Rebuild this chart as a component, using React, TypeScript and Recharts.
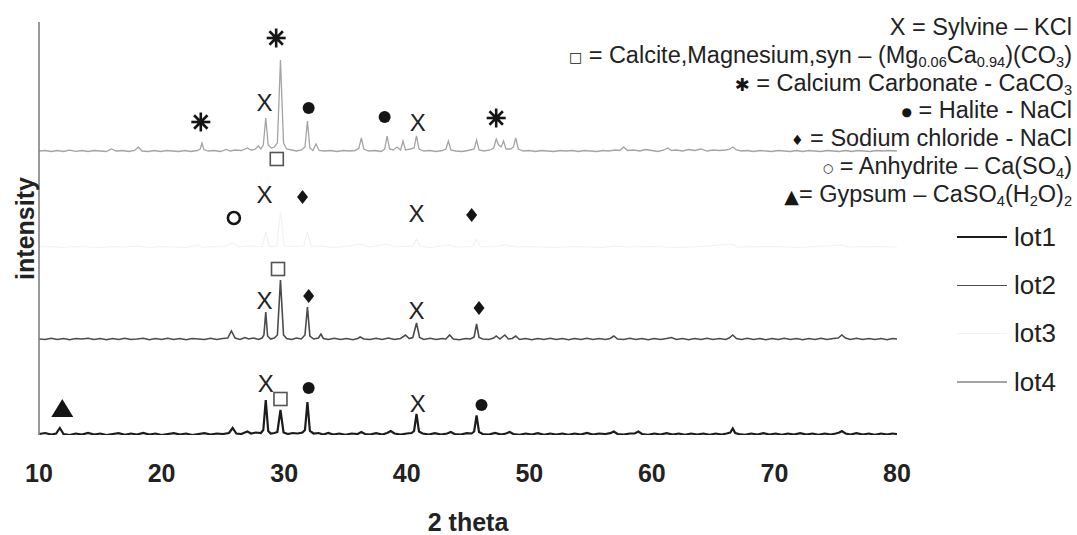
import { ComposedChart, Line, Scatter, XAxis, YAxis } from 'recharts'

// 2θ tick labels
const thetaTicks = [10, 20, 30, 40, 50, 60, 70, 80]

const lotNames = ['lot1', 'lot2', 'lot3', 'lot4']
const lotColors = ['#1c1c1c', '#4b4b4b', '#f2f2f2', '#a4a4a4']
// vertical stacking offset of each pattern (counts)
const lotOffsets = [10, 960, 1880, 2840]

// [2θ, counts above own baseline]
const lot1Raw: [number, number][] = [
  [10, 0], [10.5, 10], [11, -5], [11.4, 5], [11.7, 60], [12, 0], [12.5, -10], [13, 5], [13.5, -5], [14, 10],
  [14.5, -5], [15, 5], [15.5, -10], [16, 0], [16.5, 8], [17, -8], [17.5, 5], [18, -5], [18.5, 10], [19, -5],
  [19.5, 5], [20, -10], [20.5, 0], [21, 8], [21.5, -5], [22, 5], [22.5, -10], [23, 0], [23.5, 8], [24, -5],
  [24.5, 5], [25, 0], [25.5, 10], [25.8, 60], [26.1, 5], [26.5, 0], [27, 25], [27.3, 5], [27.7, 15], [28.1, 10],
  [28.3, 40], [28.5, 340], [28.7, 30], [28.9, 5], [29.2, 10], [29.45, 20], [29.7, 240], [29.95, 15], [30.3, 0],
  [30.7, 10], [31.1, 5], [31.5, 15], [31.7, 40], [31.9, 320], [32.1, 30], [32.4, 5], [32.8, 10], [33.2, -5],
  [33.6, 10], [34, -5], [34.5, 5], [35, -8], [35.5, 5], [36, 0], [36.3, 20], [36.6, 0], [37, -5], [37.5, 8],
  [38, -5], [38.4, 10], [38.7, 30], [39, 5], [39.5, -5], [40, 5], [40.4, 10], [40.6, 30], [40.8, 200], [41, 25],
  [41.3, 5], [41.8, -5], [42.3, 8], [42.8, -5], [43.3, 5], [43.6, 20], [43.9, 0], [44.4, -5], [44.9, 8], [45.3, 5],
  [45.5, 25], [45.7, 185], [45.9, 20], [46.2, 0], [46.7, -5], [47.2, 10], [47.7, -5], [48.1, 5], [48.4, 20],
  [48.7, 0], [49.2, -8], [49.7, 5], [50.2, -5], [50.7, 8], [51.2, -8], [51.7, 5], [52.2, -5], [52.7, 5], [53.2, -8],
  [53.7, 5], [54.2, -5], [54.7, 10], [55.2, -5], [55.7, 5], [56.2, 0], [56.6, 8], [56.9, 25], [57.2, 0], [57.7, -5],
  [58.2, 5], [58.6, 5], [58.9, 25], [59.2, 0], [59.7, -8], [60.2, 5], [60.7, -5], [61.2, 8], [61.7, -5], [62.2, 5],
  [62.7, -8], [63.2, 5], [63.7, -5], [64.2, 5], [64.7, -8], [65.2, 5], [65.7, -5], [66.1, 5], [66.4, 15], [66.6, 55],
  [66.8, 10], [67.1, 0], [67.6, -8], [68.1, 5], [68.6, -5], [69.1, 8], [69.6, -5], [70.1, 5], [70.6, -8], [71.1, 5],
  [71.6, -5], [72.1, 8], [72.6, -5], [73.1, 5], [73.6, -8], [74.1, 5], [74.6, -5], [75, 5], [75.3, 15], [75.5, 30],
  [75.8, 5], [76.2, -5], [76.7, 8], [77.2, -5], [77.7, 5], [78.2, -8], [78.7, 5], [79.2, -5], [79.6, 5], [80, 0],
]

const lot2Raw: [number, number][] = [
  [10, 0], [10.5, -5], [11, 8], [11.5, -5], [12, 5], [12.5, -8], [13, 5], [13.5, 0], [14, 8], [14.5, -5], [15, 5],
  [15.5, -8], [16, 5], [16.5, -5], [17, 8], [17.5, -5], [18, 0], [18.5, 8], [19, -8], [19.5, 5], [20, -5], [20.5, 8],
  [21, -5], [21.5, 5], [22, -8], [22.5, 5], [23, 0], [23.5, -5], [24, 8], [24.5, -5], [25, 5], [25.4, 10], [25.7, 80],
  [26, 10], [26.4, -5], [26.8, 15], [27.1, 0], [27.5, 10], [27.9, -5], [28.2, 10], [28.35, 40], [28.5, 270],
  [28.65, 30], [28.9, 0], [29.2, 10], [29.45, 40], [29.7, 590], [29.95, 40], [30.2, 5], [30.6, -5], [31, 10],
  [31.4, 0], [31.7, 40], [31.9, 320], [32.1, 30], [32.4, 0], [32.8, 10], [33, 50], [33.2, 5], [33.6, -5], [34.1, 8],
  [34.6, -5], [35.1, 5], [35.6, -8], [36, 5], [36.2, 20], [36.5, 0], [37, -5], [37.5, 8], [38, -5], [38.5, 10],
  [39, -5], [39.5, 5], [39.9, 40], [40.2, 5], [40.5, 15], [40.8, 160], [41.05, 15], [41.4, -5], [41.9, 8], [42.4, -5],
  [42.9, 5], [43.2, 0], [43.5, 40], [43.8, 0], [44.3, -8], [44.8, 5], [45.2, 0], [45.5, 20], [45.7, 150], [45.9, 15],
  [46.2, 0], [46.7, -5], [47.1, 10], [47.3, 30], [47.6, 0], [48, 40], [48.3, 0], [48.6, 5], [48.9, 30], [49.2, -5],
  [49.7, 5], [50.2, -8], [50.7, 5], [51.2, -5], [51.7, 8], [52.2, -5], [52.7, 5], [53.2, -8], [53.7, 5], [54.2, -5],
  [54.7, 8], [55.2, -5], [55.7, 5], [56.2, -5], [56.6, 5], [56.9, 30], [57.2, 0], [57.7, -5], [58.2, 8], [58.7, -5],
  [59.2, 5], [59.7, -8], [60.2, 5], [60.7, -5], [61.2, 5], [61.6, 15], [62, -5], [62.5, 5], [63, -8], [63.5, 5],
  [64, -5], [64.5, 8], [65, -5], [65.5, 5], [66, -5], [66.3, 10], [66.6, 40], [66.9, 5], [67.3, -5], [67.8, 8],
  [68.3, -5], [68.8, 5], [69.3, -8], [69.8, 5], [70.3, -5], [70.8, 8], [71.3, -5], [71.8, 5], [72.3, -8], [72.8, 5],
  [73.3, -5], [73.8, 8], [74.3, -5], [74.8, 5], [75.2, 10], [75.5, 40], [75.8, 10], [76.2, -5], [76.7, 8], [77.2, -5],
  [77.7, 5], [78.2, -5], [78.7, 5], [79.2, -8], [79.6, 5], [80, 0],
]

const lot3Raw: [number, number][] = [
  [10, 0], [11, 5], [12, -5], [13, 5], [14, 0], [15, -5], [16, 5], [17, 0], [18, 10], [19, -5], [20, 5], [21, 0],
  [22, -5], [23, 20], [23.3, -5], [24, 5], [25, 0], [25.8, 40], [26.3, 0], [27, 10], [28.2, 5], [28.5, 150], [28.8, 5],
  [29.4, 10], [29.7, 350], [30, 10], [31, 5], [31.6, 10], [31.9, 150], [32.2, 5], [33, 10], [34, -5], [35, 5],
  [36.2, 30], [37, 0], [38.4, 30], [39, 0], [40.5, 10], [40.8, 80], [41.1, 5], [42, -5], [43.4, 20], [44, 0],
  [45.4, 5], [45.7, 80], [46, 5], [47, 0], [48, 20], [49, 0], [50, 5], [52, -5], [54, 5], [56, -5], [57, 10], [58, 0],
  [60, 5], [62, -5], [64, 5], [66.6, 30], [67, 0], [70, 5], [72, -5], [75.5, 20], [76, 0], [78, 5], [80, 0],
]

const lot4Raw: [number, number][] = [
  [10, 0], [10.5, 5], [11, -5], [11.5, 5], [12, -5], [12.5, 8], [13, -3], [13.5, 5], [14, -5], [14.5, 5], [15, 0],
  [15.5, -5], [15.9, 20], [16.3, 0], [16.8, 5], [17.3, -5], [17.8, 5], [18.1, 40], [18.4, 0], [18.9, -5], [19.4, 5],
  [19.9, -5], [20.4, 5], [20.9, 0], [21.4, -5], [21.9, 5], [22.4, -5], [22.9, 5], [23.15, 20], [23.3, 80],
  [23.45, 15], [23.8, 0], [24.3, 5], [24.8, -5], [25.3, 15], [25.6, 0], [26, 10], [26.5, 5], [27, 30], [27.3, 10],
  [27.6, 15], [27.9, 50], [28.1, 20], [28.3, 60], [28.5, 330], [28.7, 60], [28.95, 30], [29.2, 40], [29.45, 80],
  [29.7, 910], [29.95, 80], [30.2, 20], [30.6, 10], [31, 0], [31.4, 10], [31.7, 40], [31.9, 300], [32.1, 30],
  [32.35, 5], [32.6, 70], [32.85, 5], [33.3, 0], [33.8, 5], [34.3, -5], [34.8, 5], [35.3, 0], [35.8, 5], [36.1, 30],
  [36.3, 130], [36.5, 20], [36.9, 0], [37.4, 5], [37.9, -5], [38.2, 20], [38.4, 150], [38.6, 20], [38.9, 10],
  [39.2, 40], [39.5, 10], [39.7, 100], [39.9, 10], [40.3, 20], [40.6, 30], [40.8, 150], [41, 20], [41.4, 0], [41.9, 5],
  [42.4, -5], [42.9, 5], [43.2, 20], [43.4, 100], [43.6, 10], [44, 0], [44.5, -5], [45, 5], [45.5, 20], [45.7, 110],
  [45.9, 10], [46.3, 0], [46.8, 10], [47.1, 30], [47.3, 120], [47.5, 60], [47.7, 40], [47.9, 100], [48.1, 20],
  [48.5, 20], [48.7, 40], [48.9, 130], [49.1, 20], [49.5, 0], [50, 5], [50.5, -5], [51, 5], [51.5, 0], [52, -5],
  [52.5, 5], [53, 0], [53.5, 5], [54, -5], [54.5, 5], [55, 0], [55.5, -5], [56, 5], [56.5, 0], [57, 10], [57.4, 5],
  [57.7, 40], [58, 5], [58.5, 10], [59, 0], [59.5, 15], [60, 5], [60.5, -5], [61, 10], [61.3, 30], [61.6, 5], [62, 10],
  [62.5, 0], [63, 15], [63.5, 5], [64, 20], [64.5, 0], [65, 10], [65.5, 5], [66, 10], [66.3, 15], [66.6, 40],
  [66.9, 10], [67.3, 0], [67.8, 5], [68.3, -5], [68.8, 5], [69.3, 0], [69.8, -5], [70.3, 5], [70.8, 0], [71.3, -5],
  [71.8, 5], [72.3, -5], [72.8, 5], [73.3, 0], [73.8, -5], [74.3, 5], [74.8, 0], [75.3, -5], [75.8, 5], [76.3, -5],
  [76.8, 5], [77.3, 0], [77.8, -5], [78.3, 5], [78.8, 0], [79.3, 5], [80, 0],
]

// phase markers: 2θ, counts (chart scale), symbol
type Mark = { x: number; y: number; sym: string }
const lot4Marks: Mark[] = [
  { x: 29.35, y: 3970, sym: 'star' },
  { x: 23.2, y: 3130, sym: 'star' },
  { x: 28.4, y: 3330, sym: 'X' },
  { x: 32.0, y: 3270, sym: 'dot' },
  { x: 38.2, y: 3180, sym: 'dot' },
  { x: 40.9, y: 3130, sym: 'X' },
  { x: 47.3, y: 3170, sym: 'star' },
]
const lot3Marks: Mark[] = [
  { x: 29.4, y: 2760, sym: 'square' },
  { x: 25.9, y: 2170, sym: 'ring' },
  { x: 28.4, y: 2410, sym: 'X' },
  { x: 31.5, y: 2380, sym: 'diamond' },
  { x: 40.8, y: 2220, sym: 'X' },
  { x: 45.3, y: 2200, sym: 'diamond' },
]
const lot2Marks: Mark[] = [
  { x: 29.5, y: 1660, sym: 'square' },
  { x: 28.4, y: 1350, sym: 'X' },
  { x: 32.0, y: 1390, sym: 'diamond' },
  { x: 40.8, y: 1250, sym: 'X' },
  { x: 45.9, y: 1270, sym: 'diamond' },
]
const lot1Marks: Mark[] = [
  { x: 11.9, y: 270, sym: 'triangle' },
  { x: 28.5, y: 520, sym: 'X' },
  { x: 29.7, y: 360, sym: 'square' },
  { x: 32.0, y: 470, sym: 'dot' },
  { x: 40.9, y: 320, sym: 'X' },
  { x: 46.1, y: 300, sym: 'dot' },
]

const lotRaw = [lot1Raw, lot2Raw, lot3Raw, lot4Raw]
const lotWidths = [2.2, 1.6, 1.2, 1.3]
const series = lotRaw.map((pts, i) => pts.map(([t, c]) => ({ x: t, y: c + lotOffsets[i] })))
const allMarks = [...lot1Marks, ...lot2Marks, ...lot3Marks, ...lot4Marks]

const sans = '"Liberation Sans", Arial, "DejaVu Sans", sans-serif'
const ink = '#222'

function PhaseMark(props: any) {
  const { cx, cy, payload } = props
  if (cx == null || cy == null) return null
  switch (payload.sym) {
    case 'X':
      return (
        <text x={cx} y={cy} textAnchor="middle" dominantBaseline="central" fontSize={24} fontFamily={sans} fill={ink}>
          X
        </text>
      )
    case 'square':
      return <rect x={cx - 6.5} y={cy - 6.5} width={13} height={13} fill="#fff" stroke="#555" strokeWidth={1.6} />
    case 'dot':
      return <circle cx={cx} cy={cy} r={6} fill="#151515" />
    case 'ring':
      return <circle cx={cx} cy={cy} r={6} fill="none" stroke="#151515" strokeWidth={2.6} />
    case 'diamond':
      return <path d={`M${cx},${cy - 7}L${cx + 5.5},${cy}L${cx},${cy + 7}L${cx - 5.5},${cy}Z`} fill="#151515" />
    case 'triangle':
      return <path d={`M${cx},${cy - 9}L${cx + 11},${cy + 9}L${cx - 11},${cy + 9}Z`} fill="#151515" />
    case 'star': {
      const r = 9.5
      const d = r * Math.SQRT1_2
      return (
        <g stroke="#151515" strokeWidth={2.6}>
          <line x1={cx - r} y1={cy} x2={cx + r} y2={cy} />
          <line x1={cx} y1={cy - r} x2={cx} y2={cy + r} />
          <line x1={cx - d} y1={cy - d} x2={cx + d} y2={cy + d} />
          <line x1={cx - d} y1={cy + d} x2={cx + d} y2={cy - d} />
          <circle cx={cx} cy={cy} r={3.5} fill="#151515" stroke="none" />
        </g>
      )
    }
    default:
      return null
  }
}

const subStyle = { fontSize: '0.62em', verticalAlign: '-0.3em', lineHeight: 0 }
const sym = (s: string, size: number) => (
  <span
    style={{ fontSize: size, lineHeight: 0, verticalAlign: 'middle', color: '#151515', fontFamily: '"DejaVu Sans", sans-serif' }}
  >
    {s}
  </span>
)

const phaseKey = [
  <>X = Sylvine – KCl</>,
  <>
    {sym('□', 14)} = Calcite,Magnesium,syn – (Mg<sub style={subStyle}>0.06</sub>Ca<sub style={subStyle}>0.94</sub>)(CO
    <sub style={subStyle}>3</sub>)
  </>,
  <>
    {sym('✱', 18)} = Calcium Carbonate - CaCO<sub style={subStyle}>3</sub>
  </>,
  <>{sym('●', 12)} = Halite - NaCl</>,
  <>{sym('♦', 14)} = Sodium chloride - NaCl</>,
  <>
    {sym('○', 12)} = Anhydrite – Ca(SO<sub style={subStyle}>4</sub>)
  </>,
  <>
    {sym('▲', 19)}= Gypsum – CaSO<sub style={subStyle}>4</sub>(H<sub style={subStyle}>2</sub>O)<sub style={subStyle}>2</sub>
  </>,
]

export default function App() {
  return (
    <div style={{ position: 'absolute', left: 0, top: 0, width: 1077, height: 535, background: '#fff' }}>
      <ComposedChart width={1077} height={535} margin={{ top: 22, right: 180, bottom: 0, left: 37 }}>
        <XAxis
          type="number"
          dataKey="x"
          domain={[10, 80]}
          ticks={thetaTicks}
          allowDataOverflow
          height={100}
          axisLine={false}
          tickLine={false}
          tickSize={0}
          tickMargin={29}
          tick={{ fontSize: 25, fontWeight: 700, fontFamily: sans, fill: ink }}
          label={{
            value: '2 theta',
            position: 'insideBottom',
            offset: 4,
            style: { fontSize: 25, fontWeight: 700, fontFamily: sans, fill: ink },
          }}
        />
        <YAxis
          type="number"
          dataKey="y"
          domain={[0, 4130]}
          allowDataOverflow
          width={2}
          tick={false}
          tickLine={false}
          axisLine={{ stroke: '#808080', strokeWidth: 1.6 }}
          label={{
            value: 'intensity',
            angle: -90,
            position: 'insideLeft',
            offset: -12,
            style: { fontSize: 25, fontWeight: 700, fontFamily: sans, fill: ink, textAnchor: 'middle' },
          }}
        />
        {series.map((d, i) => (
          <Line
            key={lotNames[i]}
            data={d}
            dataKey="y"
            name={lotNames[i]}
            type="linear"
            stroke={lotColors[i]}
            strokeWidth={lotWidths[i]}
            dot={false}
            activeDot={false}
            isAnimationActive={false}
          />
        ))}
        <Scatter data={allMarks} dataKey="y" shape={PhaseMark} isAnimationActive={false} />
      </ComposedChart>

      <div
        style={{
          position: 'absolute',
          right: 5,
          top: 14,
          textAlign: 'right',
          fontFamily: sans,
          fontSize: 23.5,
          color: ink,
          whiteSpace: 'nowrap',
        }}
      >
        {phaseKey.map((row, i) => (
          <div key={i} style={{ height: 27.8, lineHeight: '27.8px' }}>
            {row}
          </div>
        ))}
      </div>

      <div style={{ position: 'absolute', left: 957, top: 213, fontFamily: sans, fontSize: 26, color: ink }}>
        {lotNames.map((n, i) => (
          <div key={n} style={{ height: 48.3, display: 'flex', alignItems: 'center' }}>
            <span style={{ display: 'inline-block', width: 50, height: lotWidths[i], background: lotColors[i], marginRight: 7 }} />
            <span>{n}</span>
          </div>
        ))}
      </div>
    </div>
  )
}
